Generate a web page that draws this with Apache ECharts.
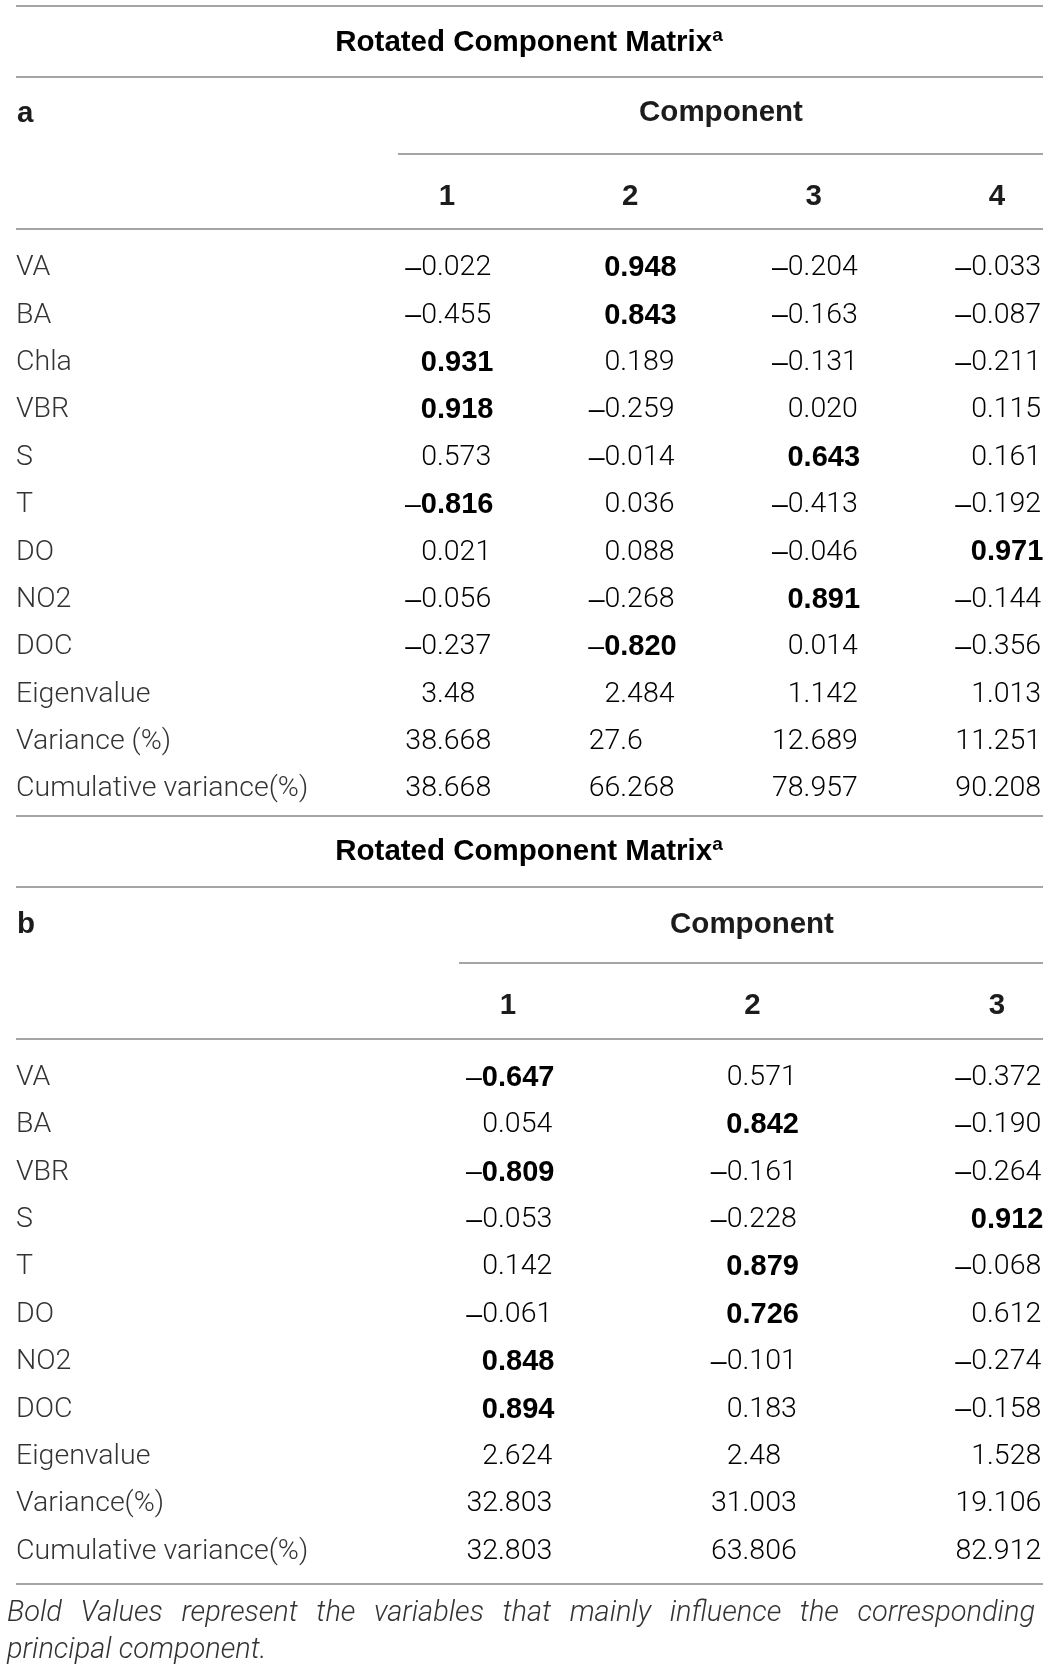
<!DOCTYPE html>
<html>
<head>
<meta charset="utf-8">
<script src="https://cdn.jsdelivr.net/npm/echarts@6/dist/echarts.min.js"></script>
<style>
html,body{margin:0;padding:0;background:#fff;}
#c{width:1049px;height:1670px;}
</style>
</head>
<body>
<div id="c"></div>
<script>
// ---------------- DATA ----------------
const titleText = 'Rotated Component Matrix';
const titleSup = 'a';
const compHeader = 'Component';
const footnote1 = 'Bold Values represent the variables that mainly influence the corresponding';
const footnote2 = 'principal component.';

// Table a
const rowsA = ['VA','BA','Chla','VBR','S','T','DO','NO2','DOC','Eigenvalue','Variance (%)','Cumulative variance(%)'];
const colsA = ['1','2','3','4'];
const a1 = [-0.022,-0.455,0.931,0.918,0.573,-0.816,0.021,-0.056,-0.237,3.48,38.668,38.668];
const a2 = [0.948,0.843,0.189,-0.259,-0.014,0.036,0.088,-0.268,-0.820,2.484,27.6,66.268];
const a3 = [-0.204,-0.163,-0.131,0.020,0.643,-0.413,-0.046,0.891,0.014,1.142,12.689,78.957];
const a4 = [-0.033,-0.087,-0.211,0.115,0.161,-0.192,0.971,-0.144,-0.356,1.013,11.251,90.208];
const loadingRowsA = 9;
const boldA = [[0,1],[1,1],[2,0],[3,0],[4,2],[5,0],[6,3],[7,2],[8,1]]; // [row, col]

// Table b
const rowsB = ['VA','BA','VBR','S','T','DO','NO2','DOC','Eigenvalue','Variance(%)','Cumulative variance(%)'];
const colsB = ['1','2','3'];
const b1 = [-0.647,0.054,-0.809,-0.053,0.142,-0.061,0.848,0.894,2.624,32.803,32.803];
const b2 = [0.571,0.842,-0.161,-0.228,0.879,0.726,-0.101,0.183,2.48,31.003,63.806];
const b3 = [-0.372,-0.190,-0.264,0.912,-0.068,0.612,-0.274,-0.158,1.528,19.106,82.912];
const loadingRowsB = 8;
const boldB = [[0,0],[1,1],[2,0],[3,2],[4,1],[5,1],[6,0],[7,0]];

// ---------------- STYLE ----------------
const LIGHT = "Roboto, 'Liberation Sans', sans-serif";
const BOLDF = "'Liberation Sans', Arial, sans-serif";
const TXT = '#333333';
const BTXT = '#1c1c1c';
const RULE = '#a5a5a5';
const FS = 28.5, BFS = 29, HFS = 29.5, LH = 32;
const DX = -10;
const DASH = '\u2013';

const RICH = {
  d: {fontFamily: "'Liberation Sans', sans-serif", fontWeight: 'normal', fontSize: FS, color: '#3a3a3a', lineHeight: LH},
  l: {fontFamily: LIGHT, fontWeight: 300, fontSize: FS, color: TXT, lineHeight: LH},
  b: {fontFamily: BOLDF, fontWeight: 'bold', fontSize: BFS, color: BTXT, lineHeight: LH}
};

function buildCells(cols, nLoad, bold) {
  const cells = [];
  cols.forEach((arr, ci) => {
    arr.forEach((v, ri) => {
      const s = ri < nLoad ? Math.abs(v).toFixed(3) : String(Math.abs(v));
      const k = s.indexOf('.');
      const ip = k >= 0 ? s.slice(0, k) : s;
      const fp = k >= 0 ? s.slice(k) : '';
      const isB = bold.some(p => p[0] === ri && p[1] === ci);
      cells.push({col: ci, row: ri, neg: v < 0, ip, fp, bold: isB});
    });
  });
  return cells;
}
const cellsA = buildCells([a1,a2,a3,a4], loadingRowsA, boldA);
const cellsB = buildCells([b1,b2,b3], loadingRowsB, boldB);

function makeRender(cells) {
  return function (params, api) {
    const c = cells[params.dataIndex];
    const p = api.coord([c.col, c.row]);
    const x = p[0] + DX, y = p[1];
    const st = c.bold ? 'b' : 'l';
    const it = (c.neg ? '{d|' + DASH + '}' : '') + '{' + st + '|' + c.ip + '}';
    const ft = c.fp ? '{' + st + '|' + c.fp + '}' : '';
    return {
      type: 'group',
      children: [
        {type: 'text', x: x, y: y, style: {text: it, rich: RICH, align: 'right', verticalAlign: 'middle'}},
        {type: 'text', x: x, y: y, style: {text: ft, rich: RICH, align: 'left', verticalAlign: 'middle'}}
      ]
    };
  };
}

// ---------------- LAYOUT ----------------
const L = 16, R = 1043;
const gA = {left: 355.3, top: 244.5, width: 733.3, height: 568.4};
const gB = {left: 385.75, top: 1054, width: 733.5, height: 521.4};

function hline(y, x1) {
  return {type: 'line', silent: true, shape: {x1: x1 == null ? L : x1, y1: y, x2: R, y2: y},
          style: {stroke: RULE, lineWidth: 2}};
}
function boldText(txt, x, y, align) {
  return {type: 'text', x: x, y: y, style: {text: txt, fontFamily: BOLDF, fontWeight: 'bold',
          fontSize: HFS, fill: BTXT, align: align || 'center', verticalAlign: 'middle'}};
}
function titleEl(y) {
  return {type: 'text', x: 529, y: y, style: {
    text: '{t|' + titleText + '}{s|' + titleSup + '}', align: 'center', verticalAlign: 'middle',
    rich: {
      t: {fontFamily: BOLDF, fontWeight: 'bold', fontSize: HFS, color: BTXT, lineHeight: 34},
      s: {fontFamily: BOLDF, fontWeight: 'bold', fontSize: 19, color: BTXT, lineHeight: 16, verticalAlign: 'top'}
    }}};
}

// justified footnote
const FFS = 29;
const mctx = document.createElement('canvas').getContext('2d');
mctx.font = 'italic 300 ' + FFS + 'px ' + LIGHT;
function footLine(text, y, justify) {
  const words = text.split(' ');
  const els = [];
  const x0 = 7, x1 = 1035;
  const widths = words.map(w => mctx.measureText(w).width);
  const total = widths.reduce((a, b) => a + b, 0);
  const gap = justify ? (x1 - x0 - total) / (words.length - 1) : mctx.measureText(' ').width;
  let x = x0;
  words.forEach((w, i) => {
    els.push({type: 'text', x: x, y: y, style: {text: w, fontFamily: LIGHT, fontWeight: 300,
      fontStyle: 'italic', fontSize: FFS, fill: TXT, align: 'left', verticalAlign: 'middle'}});
    x += widths[i] + gap;
  });
  return els;
}

const graphics = [
  hline(6), titleEl(43), hline(77),
  boldText('a', L + 1, 114, 'left'), boldText(compHeader, 721, 113), hline(154, 398), hline(229),
  hline(816),
  titleEl(852), hline(887),
  boldText('b', L + 1, 925, 'left'), boldText(compHeader, 752, 925), hline(963, 459), hline(1039),
  hline(1584)
].concat(footLine(footnote1, 1614, true), footLine(footnote2, 1651, false));

function yAxisCfg(idx, rows, margin) {
  return {type: 'category', gridIndex: idx, data: rows, inverse: true,
    axisLine: {show: false}, axisTick: {show: false}, splitLine: {show: false},
    axisLabel: {interval: 0, align: 'left', margin: margin, fontFamily: LIGHT, fontWeight: 300,
      fontSize: FS, color: TXT}};
}
function xAxisCfg(idx, cols, margin) {
  return {type: 'category', gridIndex: idx, data: cols, position: 'top',
    axisLine: {show: false}, axisTick: {show: false}, splitLine: {show: false},
    axisLabel: {interval: 0, margin: margin, fontFamily: BOLDF, fontWeight: 'bold',
      fontSize: HFS, color: BTXT, lineHeight: 30}};
}

const chart = echarts.init(document.getElementById('c'), null, {renderer: 'canvas'});
chart.setOption({
  backgroundColor: '#ffffff',
  animation: false,
  grid: [
    Object.assign({containLabel: false, outerBoundsMode: 'none'}, gA),
    Object.assign({containLabel: false, outerBoundsMode: 'none'}, gB)
  ],
  xAxis: [xAxisCfg(0, colsA, 33), xAxisCfg(1, colsB, 33)],
  yAxis: [yAxisCfg(0, rowsA, gA.left - L), yAxisCfg(1, rowsB, gB.left - L)],
  series: [
    {type: 'custom', xAxisIndex: 0, yAxisIndex: 0, clip: false, silent: true,
     data: cellsA.map(c => [c.col, c.row]), renderItem: makeRender(cellsA)},
    {type: 'custom', xAxisIndex: 1, yAxisIndex: 1, clip: false, silent: true,
     data: cellsB.map(c => [c.col, c.row]), renderItem: makeRender(cellsB)}
  ],
  graphic: graphics
});
</script>
</body>
</html>
